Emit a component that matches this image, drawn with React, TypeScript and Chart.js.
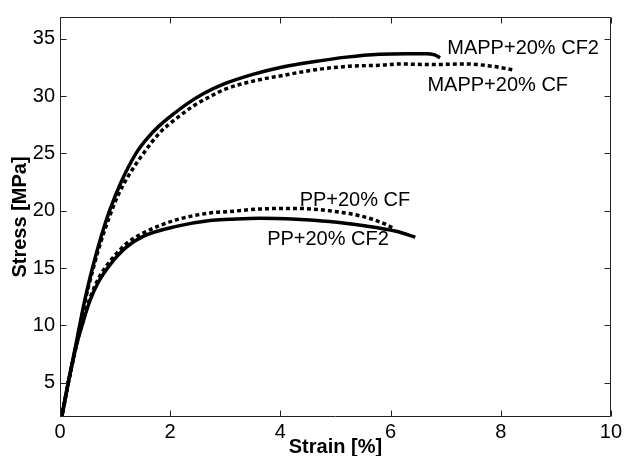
import React, { useEffect, useRef } from "react";
import { Chart, registerables } from "chart.js";

Chart.register(...registerables);

const X_TICKS = [0, 2, 4, 6, 8, 10];
const Y_TICKS = [5, 10, 15, 20, 25, 30, 35];

const MAPP_CF2_X = [0, 0.15, 0.3, 0.45, 0.6, 0.75, 0.9, 1.1, 1.38, 1.6, 1.8, 2.05, 2.3, 2.6, 3.0, 3.5, 4.0, 4.6, 5.2, 5.8, 6.3, 6.65, 6.8, 6.9];
const MAPP_CF2_Y = [1.2, 5, 8.6, 12.2, 15.2, 17.8, 20.0, 22.4, 25.0, 26.4, 27.4, 28.4, 29.3, 30.2, 31.1, 31.9, 32.5, 33.0, 33.4, 33.65, 33.7, 33.7, 33.6, 33.35];

const MAPP_CF_X = [0, 0.15, 0.3, 0.45, 0.6, 0.75, 0.9, 1.05, 1.25, 1.5, 1.81, 2.1, 2.41, 2.7, 3.0, 3.5, 4.04, 4.64, 5.24, 5.85, 6.16, 6.76, 7.37, 7.85, 8.21];
const MAPP_CF_Y = [1.2, 4.9, 8.4, 12.0, 14.9, 17.4, 19.5, 21.3, 23.1, 24.9, 26.8, 28.0, 29.1, 29.9, 30.6, 31.3, 31.8, 32.3, 32.6, 32.7, 32.8, 32.75, 32.8, 32.6, 32.3];

const PP_CF2_X = [0, 0.15, 0.3, 0.42, 0.54, 0.7, 0.91, 1.2, 1.51, 2.11, 2.72, 3.08, 3.62, 4.29, 4.89, 5.49, 6.1, 6.45];
const PP_CF2_Y = [1.2, 5, 8.3, 10.3, 12.1, 13.8, 15.3, 16.8, 17.76, 18.63, 19.15, 19.25, 19.35, 19.26, 19.06, 18.7, 18.2, 17.7];

const PP_CF_X = [0, 0.15, 0.3, 0.42, 0.54, 0.7, 0.91, 1.2, 1.51, 2.11, 2.72, 3.08, 3.68, 4.29, 4.89, 5.49, 5.92, 6.04];
const PP_CF_Y = [1.2, 5, 8.3, 10.4, 12.3, 14.1, 15.6, 17.1, 18.05, 19.2, 19.8, 19.93, 20.16, 20.2, 19.99, 19.5, 18.8, 18.5];

const LABEL_TEXT = ["MAPP+20% CF2", "MAPP+20% CF", "PP+20% CF", "PP+20% CF2"];
const LABEL_X = [7.03, 6.67, 4.35, 3.76];
const LABEL_Y = [33.64, 30.44, 20.42, 16.98];

const FONT = '"Liberation Sans", Arial, sans-serif';

function pts(xs: number[], ys: number[]) {
  return xs.map((x, i) => ({ x, y: ys[i] }));
}

const boxPlugin = {
  id: "boxTicks",
  afterDraw(chart: any) {
    const { ctx, chartArea, scales } = chart;
    const l = Math.round(chartArea.left) + 0.5;
    const r = Math.round(chartArea.right) - 0.5;
    const t = Math.round(chartArea.top) + 0.5;
    const b = Math.round(chartArea.bottom) - 0.5;
    ctx.save();
    ctx.strokeStyle = "#222";
    ctx.lineWidth = 1;
    ctx.beginPath();
    ctx.rect(l, t, r - l, b - t);
    const tl = 6;
    X_TICKS.forEach((v) => {
      const px = Math.round(scales.x.getPixelForValue(v)) + 0.5;
      ctx.moveTo(px, b);
      ctx.lineTo(px, b - tl);
      ctx.moveTo(px, t);
      ctx.lineTo(px, t + tl);
    });
    Y_TICKS.forEach((v) => {
      const py = Math.round(scales.y.getPixelForValue(v)) + 0.5;
      ctx.moveTo(l, py);
      ctx.lineTo(l + tl, py);
      ctx.moveTo(r, py);
      ctx.lineTo(r - tl, py);
    });
    ctx.stroke();
    ctx.restore();
  },
};

const labelPlugin = {
  id: "curveLabels",
  afterDatasetsDraw(chart: any) {
    const { ctx, scales } = chart;
    ctx.save();
    ctx.fillStyle = "#000";
    ctx.font = `20px ${FONT}`;
    ctx.textAlign = "left";
    ctx.textBaseline = "alphabetic";
    LABEL_TEXT.forEach((txt, i) => {
      ctx.fillText(txt, scales.x.getPixelForValue(LABEL_X[i]), scales.y.getPixelForValue(LABEL_Y[i]));
    });
    ctx.restore();
  },
};

export default function App() {
  const ref = useRef<HTMLCanvasElement>(null);
  useEffect(() => {
    document.body.style.margin = "0";
    document.body.style.overflow = "hidden";
    const canvas = ref.current!;
    const solid = { borderColor: "#000", borderWidth: 3.5, pointRadius: 0, cubicInterpolationMode: "monotone" as const, clip: 0, fill: false };
    const dotted = { ...solid, borderWidth: 3.5, borderDash: [4, 3], borderCapStyle: "butt" as const };
    const chart = new Chart(canvas, {
      type: "line",
      data: {
        datasets: [
          { label: "MAPP+20% CF2", data: pts(MAPP_CF2_X, MAPP_CF2_Y), ...solid },
          { label: "MAPP+20% CF", data: pts(MAPP_CF_X, MAPP_CF_Y), ...dotted },
          { label: "PP+20% CF2", data: pts(PP_CF2_X, PP_CF2_Y), ...solid },
          { label: "PP+20% CF", data: pts(PP_CF_X, PP_CF_Y), ...dotted },
        ],
      },
      options: {
        animation: false,
        responsive: false,
        devicePixelRatio: 1,
        layout: { padding: { left: 0, right: 13, top: 14, bottom: 0 } },
        plugins: { legend: { display: false }, tooltip: { enabled: false } },
        scales: {
          x: {
            type: "linear",
            min: 0,
            max: 10,
            afterBuildTicks: (s: any) => {
              s.ticks = X_TICKS.map((v) => ({ value: v }));
            },
            afterFit: (s: any) => {
              s.height = 45;
            },
            grid: { display: false, drawTicks: false },
            border: { display: false },
            ticks: { padding: 3, color: "#000", font: { family: FONT, size: 20 }, maxRotation: 0 },
            title: { display: true, text: "Strain [%]", color: "#000", font: { family: FONT, size: 20, weight: "bold" }, padding: { top: 0, bottom: 3 } },
          },
          y: {
            type: "linear",
            min: 2,
            max: 36.9,
            afterBuildTicks: (s: any) => {
              s.ticks = Y_TICKS.map((v) => ({ value: v }));
            },
            afterFit: (s: any) => {
              s.width = 60;
            },
            grid: { display: false, drawTicks: false },
            border: { display: false },
            ticks: { padding: 5, color: "#000", font: { family: FONT, size: 20 } },
            title: { display: true, text: "Stress [MPa]", color: "#000", font: { family: FONT, size: 20, weight: "bold" }, padding: { top: 8, bottom: 0 } },
          },
        },
      } as any,
      plugins: [boxPlugin, labelPlugin],
    });
    return () => chart.destroy();
  }, []);
  return (
    <canvas
      ref={ref}
      width={625}
      height={462}
      style={{ position: "fixed", left: 0, top: 0, width: 625, height: 462, display: "block" }}
    />
  );
}
